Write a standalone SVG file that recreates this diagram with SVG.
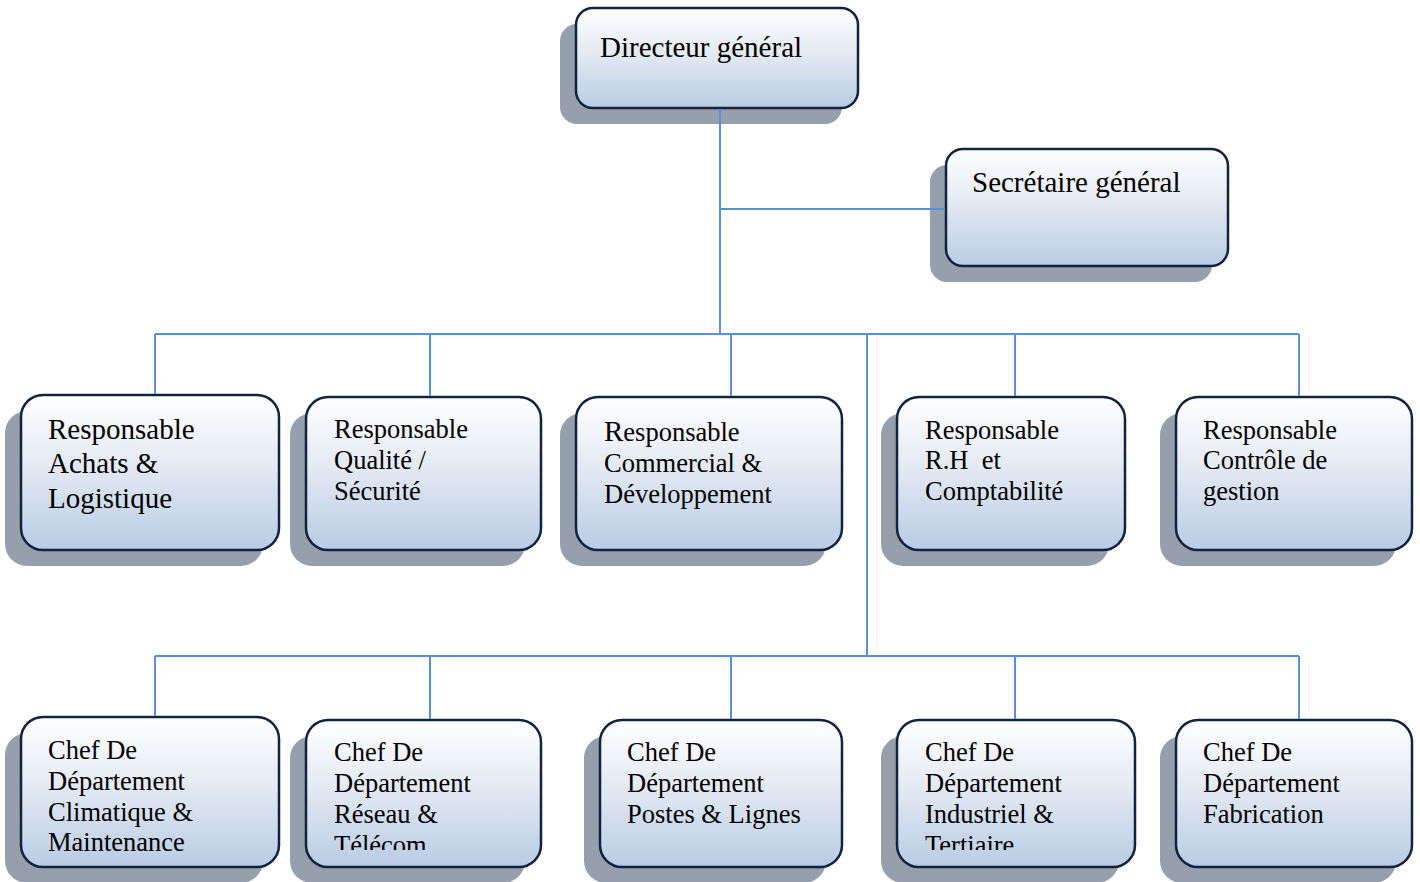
<svg xmlns="http://www.w3.org/2000/svg" width="1420" height="882" viewBox="0 0 1420 882">
<defs>
<linearGradient id="g" x1="0" y1="0" x2="0" y2="1">
<stop offset="0" stop-color="#ffffff"/>
<stop offset="0.45" stop-color="#e4eaf3"/>
<stop offset="1" stop-color="#b9cce4"/>
</linearGradient>
<clipPath id="c2"><rect x="306" y="720" width="236" height="130"/></clipPath>
<clipPath id="c4"><rect x="897" y="720" width="238" height="130"/></clipPath>
</defs>
<style>
.sh{fill:#96a0ad}
.bx{fill:url(#g);stroke:#13233f;stroke-width:2.5}
.t{font-family:"Liberation Serif","Times New Roman",serif;fill:#000}
.l{font-size:29px}
.m{font-size:26.5px}
.cn{stroke:#5b8fd6;stroke-width:2;fill:none}
</style>
<rect width="1420" height="882" fill="#ffffff"/>
<g id="n-directeur">
<rect class="sh" x="560" y="24" width="282" height="100" rx="17"/>
<rect class="bx" x="576" y="8" width="282" height="100" rx="17"/>
<text class="t l" x="600" y="57">Directeur général</text>
</g>
<g id="n-secretaire">
<rect class="sh" x="930" y="165" width="282" height="117" rx="17"/>
<rect class="bx" x="946" y="149" width="282" height="117" rx="17"/>
<text class="t l" x="972" y="192">Secrétaire général</text>
</g>
<g id="n-achats">
<rect class="sh" x="5" y="411" width="258" height="155" rx="22"/>
<rect class="bx" x="21" y="395" width="258" height="155" rx="22"/>
<text class="t l" x="48" y="439">Responsable</text>
<text class="t l" x="48" y="473">Achats &amp;</text>
<text class="t l" x="48" y="508">Logistique</text>
</g>
<g id="n-qualite">
<rect class="sh" x="290" y="413" width="235" height="153" rx="22"/>
<rect class="bx" x="306" y="397" width="235" height="153" rx="22"/>
<text class="t m" x="334" y="438">Responsable</text>
<text class="t m" x="334" y="469">Qualité /</text>
<text class="t m" x="334" y="500">Sécurité</text>
</g>
<g id="n-commercial">
<rect class="sh" x="560" y="413" width="266" height="153" rx="22"/>
<rect class="bx" x="576" y="397" width="266" height="153" rx="22"/>
<text class="t m" x="604" y="441"><tspan font-size="29px">R</tspan>esponsable</text>
<text class="t m" x="604" y="472">Commercial &amp;</text>
<text class="t m" x="604" y="503">Développement</text>
</g>
<g id="n-rh">
<rect class="sh" x="881" y="413" width="228" height="153" rx="22"/>
<rect class="bx" x="897" y="397" width="228" height="153" rx="22"/>
<text class="t m" x="925" y="439">Responsable</text>
<text class="t m" x="925" y="469" xml:space="preserve">R.H  et</text>
<text class="t m" x="925" y="500">Comptabilité</text>
</g>
<g id="n-controle">
<rect class="sh" x="1160" y="413" width="236" height="153" rx="22"/>
<rect class="bx" x="1176" y="397" width="236" height="153" rx="22"/>
<text class="t m" x="1203" y="439">Responsable</text>
<text class="t m" x="1203" y="469">Contrôle de</text>
<text class="t m" x="1203" y="500">gestion</text>
</g>
<g id="n-climatique">
<rect class="sh" x="5" y="733" width="258" height="150" rx="22"/>
<rect class="bx" x="21" y="717" width="258" height="150" rx="22"/>
<text class="t m" x="48" y="759">Chef De</text>
<text class="t m" x="48" y="790">Département</text>
<text class="t m" x="48" y="821">Climatique &amp;</text>
<text class="t m" x="48" y="851">Maintenance</text>
</g>
<g id="n-reseau">
<rect class="sh" x="290" y="736" width="235" height="147" rx="22"/>
<rect class="bx" x="306" y="720" width="235" height="147" rx="22"/>
<g clip-path="url(#c2)">
<text class="t m" x="334" y="761">Chef De</text>
<text class="t m" x="334" y="792">Département</text>
<text class="t m" x="334" y="823">Réseau &amp;</text>
<text class="t m" x="334" y="854">Télécom</text>
</g>
</g>
<g id="n-postes">
<rect class="sh" x="584" y="736" width="242" height="147" rx="22"/>
<rect class="bx" x="600" y="720" width="242" height="147" rx="22"/>
<text class="t m" x="627" y="761">Chef De</text>
<text class="t m" x="627" y="792">Département</text>
<text class="t m" x="627" y="823">Postes &amp; Lignes</text>
</g>
<g id="n-industriel">
<rect class="sh" x="881" y="736" width="238" height="147" rx="22"/>
<rect class="bx" x="897" y="720" width="238" height="147" rx="22"/>
<g clip-path="url(#c4)">
<text class="t m" x="925" y="761">Chef De</text>
<text class="t m" x="925" y="792">Département</text>
<text class="t m" x="925" y="823">Industriel &amp;</text>
<text class="t m" x="925" y="854">Tertiaire</text>
</g>
</g>
<g id="n-fabrication">
<rect class="sh" x="1160" y="736" width="236" height="147" rx="22"/>
<rect class="bx" x="1176" y="720" width="236" height="147" rx="22"/>
<text class="t m" x="1203" y="761">Chef De</text>
<text class="t m" x="1203" y="792">Département</text>
<text class="t m" x="1203" y="823">Fabrication</text>
</g>
<g id="connectors" class="cn">
<path d="M720 109V334M720 209H945M155 334H1299M155 334V394M430 334V396M731 334V396M1015 334V396M1299 334V396M867 334V656M155 656H1299M155 656V716M430 656V719M731 656V719M1015 656V719M1299 656V719"/>
</g>
</svg>
